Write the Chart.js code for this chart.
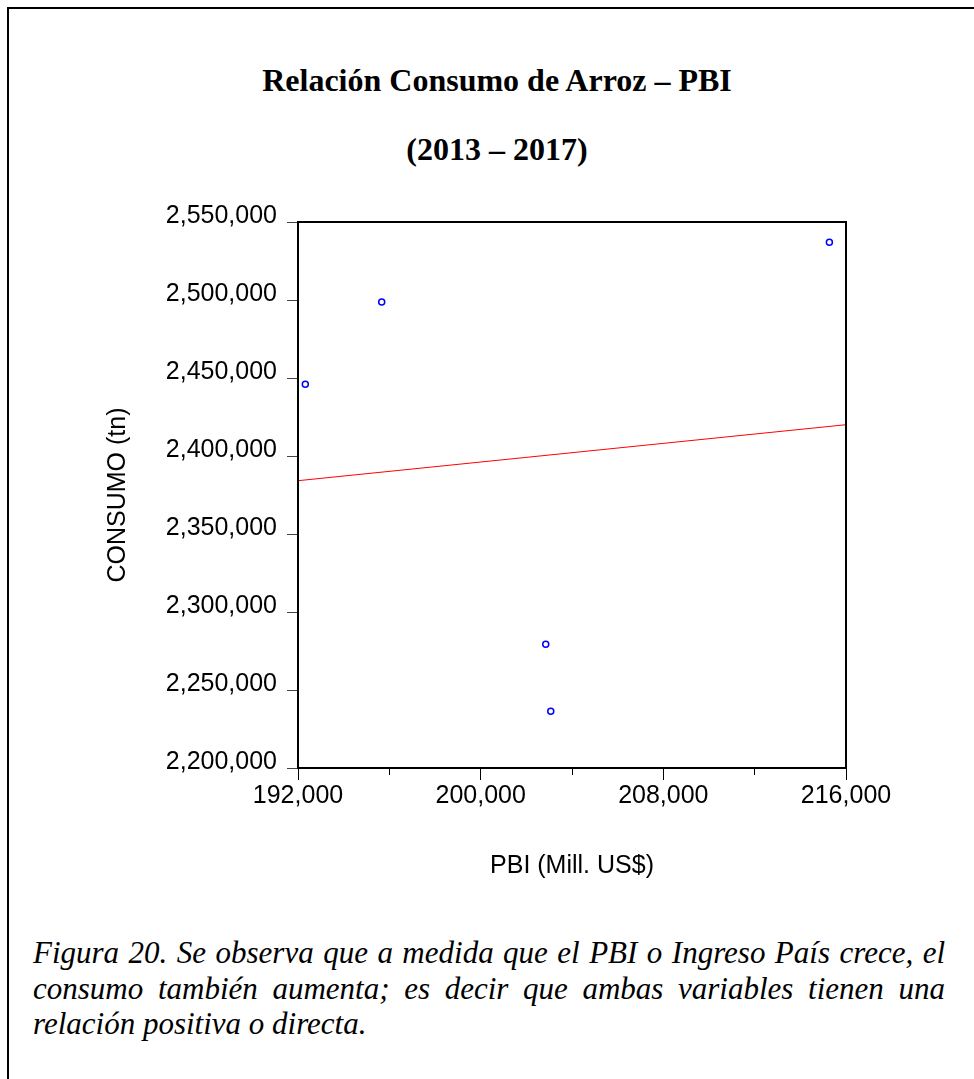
<!DOCTYPE html>
<html lang="es">
<head>
<meta charset="utf-8">
<title>Relación Consumo de Arroz – PBI</title>
<script src="https://cdn.jsdelivr.net/npm/chart.js@4.4.1/dist/chart.umd.min.js"></script>
<style>
  html, body { margin: 0; padding: 0; background: #fff; }
  body { width: 974px; height: 1079px; position: relative; overflow: hidden; }
  .marco { position: absolute; left: 7px; top: 7px; right: -10px; bottom: -10px; border-left: 2px solid #000; border-top: 2px solid #000; }
  .titulo { position: absolute; left: 20px; width: 954px; text-align: center; font: bold 32px/32px "Liberation Serif", "Times New Roman", serif; color: #000; }
  .nota { position: absolute; left: 33px; top: 935px; width: 912px; font: italic 31px/35.5px "Liberation Serif", "Times New Roman", serif; text-align: justify; color: #000; }
  #grafico { position: absolute; left: 0; top: 180px; }
</style>
</head>
<body>
<div class="marco"></div>
<div class="titulo" style="top:64px">Relación Consumo de Arroz – PBI</div>
<div class="titulo" style="top:133px">(2013 – 2017)</div>
<canvas id="grafico" width="974" height="720"></canvas>
<div class="nota">Figura 20. Se observa que a medida que el PBI o Ingreso País crece, el consumo también aumenta; es decir que ambas variables tienen una relación positiva o directa.</div>

<script>
// valores (PBI en Mill. US$, consumo en tn)
const pbi = [192320, 195666, 202850, 203070, 215272];
const consumo = [2445960, 2498718, 2279295, 2236346, 2536987];

const rectaPbi = [192000, 216000];
const rectaConsumo = [2384170, 2420060];

const ticksX = [192000, 200000, 208000, 216000];
const ticksXMenores = [196000, 204000, 212000];
const ticksY = [2200000, 2250000, 2300000, 2350000, 2400000, 2450000, 2500000, 2550000];

const fuente = { family: '"Liberation Sans", Arial, sans-serif', size: 25 };
const fmt = v => Number(v).toLocaleString('en-US');

// marco completo alrededor del area de datos
const marco = {
  id: 'marco',
  afterDraw(chart) {
    const { ctx, chartArea: a } = chart;
    ctx.save();
    ctx.strokeStyle = '#000';
    ctx.lineWidth = 2;
    ctx.strokeRect(a.left, a.top, a.right - a.left, a.bottom - a.top);
    ctx.restore();
  }
};

new Chart(document.getElementById('grafico'), {
  type: 'scatter',
  data: {
    datasets: [
      {
        label: 'CONSUMO',
        data: pbi.map((x, i) => ({ x, y: consumo[i] })),
        pointStyle: 'circle',
        pointRadius: 3,
        pointBorderWidth: 1.5,
        pointBorderColor: '#0000ff',
        pointBackgroundColor: '#ffffff'
      },
      {
        label: 'Ajuste',
        data: rectaPbi.map((x, i) => ({ x, y: rectaConsumo[i] })),
        showLine: true,
        borderColor: '#ff0000',
        borderWidth: 1,
        pointRadius: 0
      }
    ]
  },
  options: {
    responsive: false,
    animation: false,
    layout: { padding: { left: 99, top: 42, right: 128, bottom: 15 } },
    plugins: { legend: { display: false }, tooltip: { enabled: false } },
    scales: {
      x: {
        type: 'linear',
        min: ticksX[0],
        max: ticksX[ticksX.length - 1],
        afterBuildTicks: s => { s.ticks = ticksX.map(value => ({ value })); },
        afterFit: s => { s.height = 117; },
        ticks: { color: '#000', font: fuente, padding: 1, maxRotation: 0, callback: fmt },
        grid: { drawOnChartArea: false, tickLength: 12, tickColor: '#000', tickWidth: 1 },
        border: { color: '#000', width: 2 },
        title: { display: true, text: 'PBI (Mill. US$)', color: '#000', font: fuente, padding: { top: 4, bottom: 4 } }
      },
      xMenor: {
        type: 'linear',
        axis: 'x',
        position: { y: ticksY[0] },
        min: ticksX[0],
        max: ticksX[ticksX.length - 1],
        afterBuildTicks: s => { s.ticks = ticksXMenores.map(value => ({ value })); },
        ticks: { display: false },
        grid: { drawOnChartArea: false, tickLength: 7, tickColor: '#000', tickWidth: 1 },
        border: { display: false }
      },
      y: {
        type: 'linear',
        min: ticksY[0],
        max: ticksY[ticksY.length - 1],
        afterBuildTicks: s => { s.ticks = ticksY.map(value => ({ value })); },
        afterFit: s => { s.width = 199; },
        ticks: { color: '#000', font: fuente, padding: 10, labelOffset: -6, callback: fmt },
        grid: { drawOnChartArea: false, tickLength: 11, tickColor: '#444', tickWidth: 1 },
        border: { color: '#000', width: 2 },
        title: { display: true, text: 'CONSUMO (tn)', color: '#000', font: fuente, padding: { top: 4, bottom: 4 } }
      }
    }
  },
  plugins: [marco]
});
</script>
</body>
</html>
